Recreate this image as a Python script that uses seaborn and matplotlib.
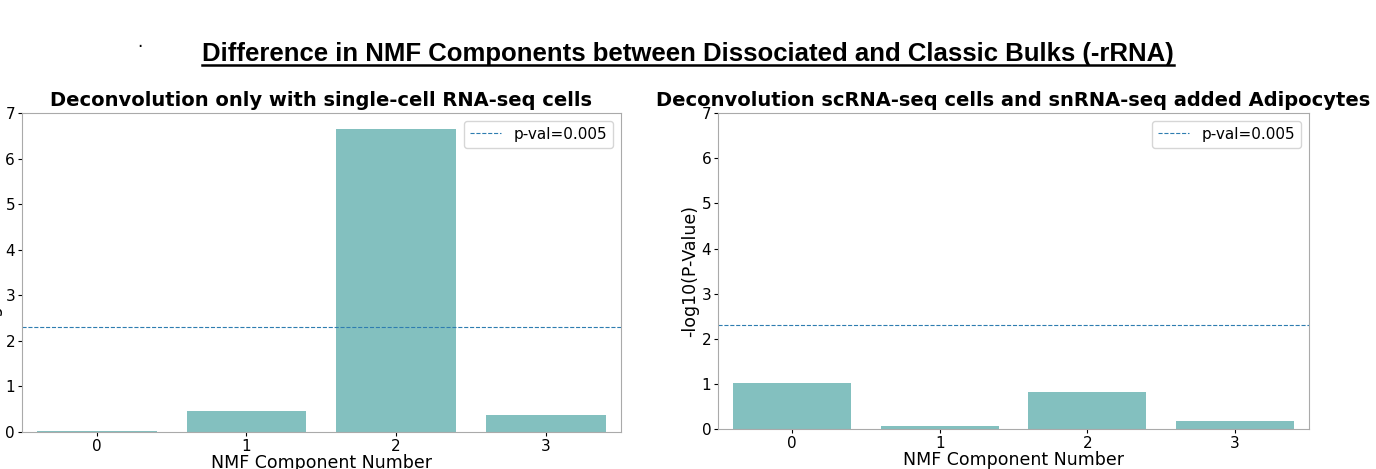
import matplotlib
matplotlib.use("Agg")
import matplotlib.pyplot as plt
import seaborn as sns
import numpy as np
import pandas as pd

components = [0, 1, 2, 3]
left_vals = [0.02, 0.45, 6.65, 0.38]
right_vals = [1.03, 0.07, 0.83, 0.17]
pval_cut = 0.005

fig = plt.figure(figsize=(13.76, 4.69), dpi=100)
ax1 = fig.add_axes([0.016, 0.079, 0.435, 0.680])
ax2 = fig.add_axes([0.522, 0.085, 0.429, 0.674])

panels = [
    (ax1, left_vals, "Deconvolution only with single-cell RNA-seq cells"),
    (ax2, right_vals, "Deconvolution scRNA-seq cells and snRNA-seq added Adipocytes"),
]
for ax, vals, title in panels:
    df = pd.DataFrame({"comp": components, "val": vals})
    sns.barplot(data=df, x="comp", y="val", color="#83c0bf", saturation=1, ax=ax)
    ax.axhline(-np.log10(pval_cut), ls="--", lw=0.8, color="#2e7db0", label="p-val=0.005")
    ax.set_ylim(0, 7)
    ax.set_title(title, fontsize=14, fontweight="bold", pad=5)
    ax.set_xlabel("NMF Component Number", fontsize=12.5, labelpad=0)
    ax.set_ylabel("-log10(P-Value)", fontsize=12.5, labelpad=2)
    ax.tick_params(labelsize=11, length=3, pad=2)
    ax.legend(fontsize=11, loc="upper right")
    for s in ax.spines.values():
        s.set_color("#aaaaaa")

t = fig.text(0.5, 0.885, "Difference in NMF Components between Dissociated and Classic Bulks (-rRNA)",
             ha="center", va="center", fontsize=18.5, fontweight="bold",
             fontfamily="Liberation Sans")
fig.text(0.102, 0.90, ".", fontsize=12, ha="center")
fig.canvas.draw()
bb = t.get_window_extent().transformed(fig.transFigure.inverted())
fig.add_artist(plt.Line2D([bb.x0, bb.x1], [bb.y0 + 0.003, bb.y0 + 0.003], color="black", lw=1.8))

fig.savefig("out.png", dpi=100)
